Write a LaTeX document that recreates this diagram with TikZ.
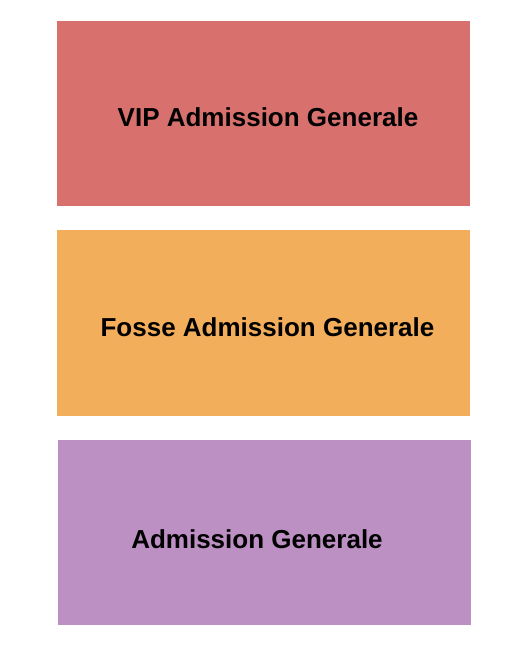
\documentclass[tikz,border=0pt]{standalone}
\usepackage{fontspec}
\setmainfont{Liberation Sans}
\definecolor{vipred}{HTML}{D8706E}
\definecolor{fosseor}{HTML}{F3AE5B}
\definecolor{genpur}{HTML}{BD90C4}
\tikzset{
  zonelabel/.style={anchor=base, inner sep=0pt, font=\fontsize{26}{30}\selectfont\bfseries, text=black}
}
\begin{document}
\begin{tikzpicture}[x=1pt,y=-1pt]
\useasboundingbox[fill=white] (0,0) rectangle (525,650);
\fill[vipred] (57,21) rectangle (470,206);
\fill[fosseor] (57,230) rectangle (470,415.5);
\fill[genpur] (58,439.5) rectangle (471,625);
\node[zonelabel] (vip) at (268,126) {VIP Admission Generale};
\node[zonelabel] (fosse) at (267.5,336) {Fosse Admission Generale};
\node[zonelabel] (gen) at (257,548) {Admission Generale};
\end{tikzpicture}
\end{document}
